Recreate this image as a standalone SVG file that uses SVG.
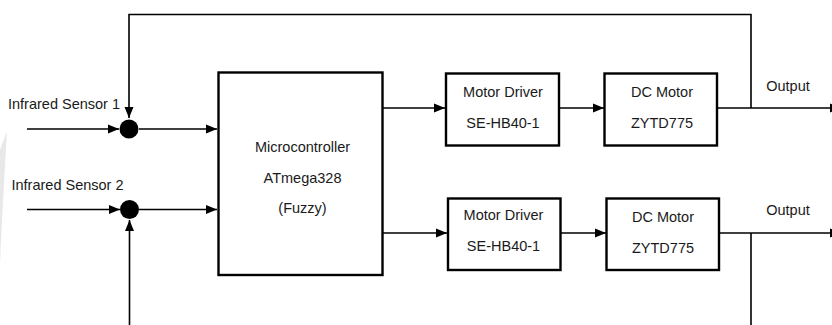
<svg xmlns="http://www.w3.org/2000/svg" width="832" height="325" viewBox="0 0 832 325">
<defs>
<marker id="arr" markerUnits="userSpaceOnUse" markerWidth="12" markerHeight="10" refX="11" refY="5" orient="auto">
<path d="M0,0.5 L11,5 L0,9.5 Z" fill="#000"/>
</marker>
<style>
.box{fill:#fff;stroke:#000;stroke-width:2.4}
.ln{fill:none;stroke:#000;stroke-width:1.6}
.t{font-family:"Liberation Sans",Arial,sans-serif;font-size:14.5px;fill:#1a1a1a;text-anchor:middle}
.tl{font-family:"Liberation Sans",Arial,sans-serif;font-size:14.5px;fill:#1a1a1a}
.dot{fill:#000}
</style>
</defs>
<rect width="832" height="325" fill="#fff"/>
<path d="M7,132 C5,165 2,220 0,265 L0,150 C2,145 4,138 7,132 Z" fill="#e8e8e8"/>
<g id="connectors">
<path class="ln" d="M751,108 V14.5 H129 V118" marker-end="url(#arr)"/>
<path class="ln" d="M27,129 H119" marker-end="url(#arr)"/>
<path class="ln" d="M139,129 H217" marker-end="url(#arr)"/>
<path class="ln" d="M27,209.5 H120" marker-end="url(#arr)"/>
<path class="ln" d="M139,209.5 H217" marker-end="url(#arr)"/>
<path class="ln" d="M129.5,325 V220" marker-end="url(#arr)"/>
<path class="ln" d="M751,233 V325"/>
<path class="ln" d="M383,108 H445" marker-end="url(#arr)"/>
<path class="ln" d="M559,108 H604" marker-end="url(#arr)"/>
<path class="ln" d="M717,108 H841" marker-end="url(#arr)"/>
<path class="ln" d="M383,233 H447" marker-end="url(#arr)"/>
<path class="ln" d="M561,233 H606" marker-end="url(#arr)"/>
<path class="ln" d="M719,233 H841" marker-end="url(#arr)"/>
</g>
<g id="sensor1">
<text class="tl" x="8" y="109">Infrared Sensor 1</text>
<circle class="dot" cx="129" cy="129" r="9.5"/>
</g>
<g id="sensor2">
<text class="tl" x="11.5" y="190">Infrared Sensor 2</text>
<circle class="dot" cx="129.5" cy="209.5" r="9.5"/>
</g>
<g id="microcontroller">
<rect class="box" x="218.5" y="72.5" width="164" height="202.5"/>
<text class="t" x="302.5" y="152">Microcontroller</text>
<text class="t" x="302.5" y="183">ATmega328</text>
<text class="t" x="302.5" y="212.5">(Fuzzy)</text>
</g>
<g id="motordriver1">
<rect class="box" x="446" y="73.5" width="113" height="72"/>
<text class="t" x="503" y="97">Motor Driver</text>
<text class="t" x="503" y="128">SE-HB40-1</text>
</g>
<g id="dcmotor1">
<rect class="box" x="604.5" y="73.5" width="112.5" height="72"/>
<text class="t" x="662" y="97">DC Motor</text>
<text class="t" x="662" y="128">ZYTD775</text>
</g>
<g id="motordriver2">
<rect class="box" x="448" y="198.5" width="112.5" height="71.5"/>
<text class="t" x="503.5" y="220">Motor Driver</text>
<text class="t" x="503.5" y="250.5">SE-HB40-1</text>
</g>
<g id="dcmotor2">
<rect class="box" x="606.5" y="198.5" width="112.5" height="71.5"/>
<text class="t" x="663" y="222">DC Motor</text>
<text class="t" x="663" y="252.5">ZYTD775</text>
</g>
<g id="output1">
<text class="t" x="788" y="91">Output</text>
</g>
<g id="output2">
<text class="t" x="788" y="215">Output</text>
</g>
</svg>
